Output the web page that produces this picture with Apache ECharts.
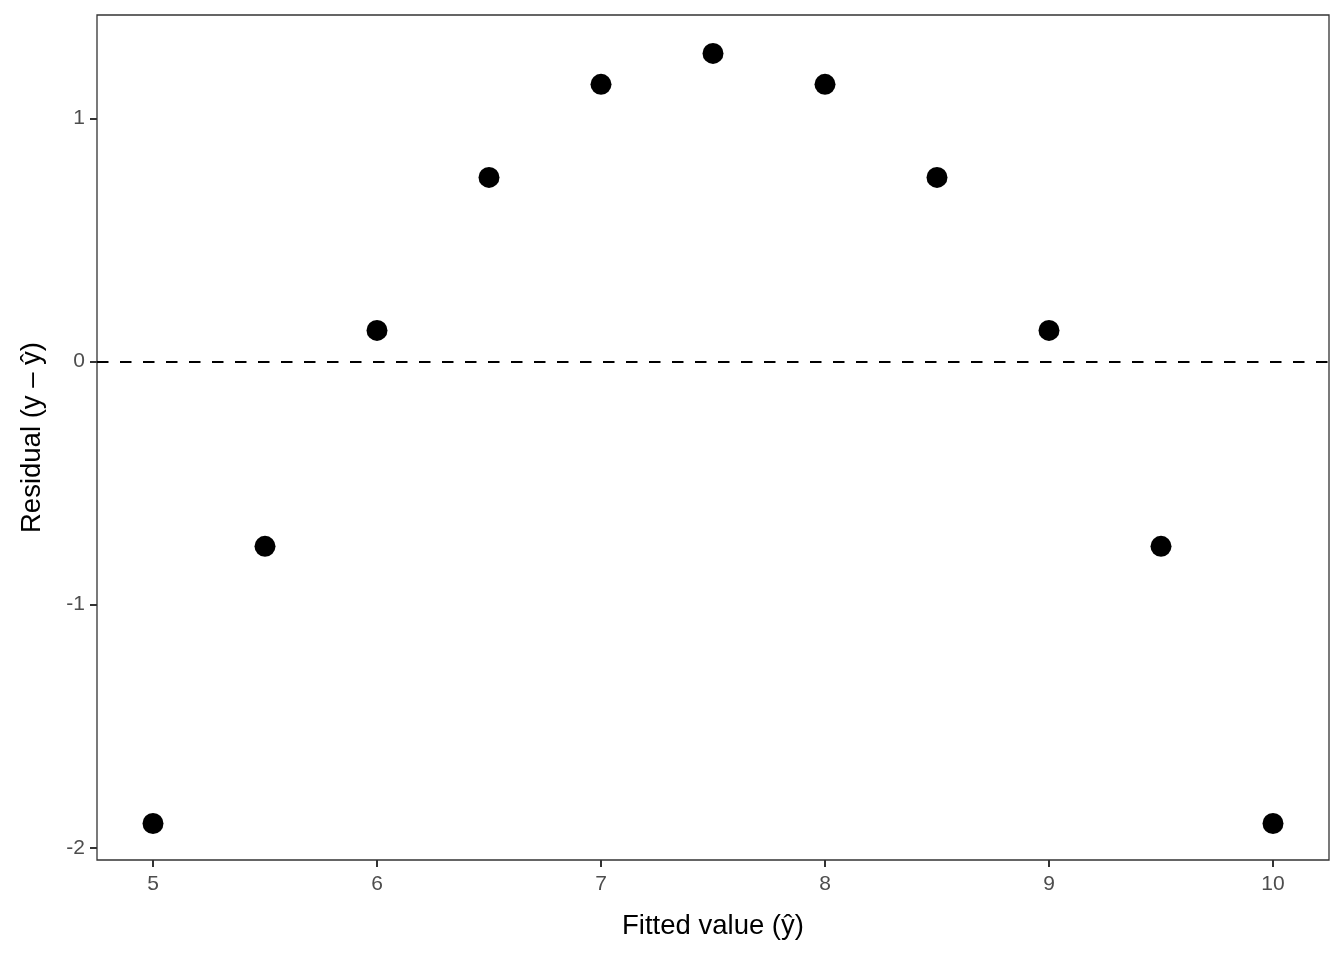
<!DOCTYPE html>
<html><head><meta charset="utf-8">
<script src="https://cdn.jsdelivr.net/npm/echarts@6/dist/echarts.min.js"></script>
<style>html,body{margin:0;padding:0;background:#fff}#c{width:1344px;height:960px}</style>
</head><body><div id="c"></div>
<script>
const fitted = [5, 5.5, 6, 6.5, 7, 7.5, 8, 8.5, 9, 9.5, 10];
const residuals = [-1.9, -0.76, 0.128, 0.757, 1.14, 1.267, 1.14, 0.757, 0.128, -0.76, -1.9];
const xTicks = [5, 6, 7, 8, 9, 10];
const yTicks = [-2, -1, 0, 1];

const chart = echarts.init(document.getElementById('c'));
const font = '"Liberation Sans", Arial, Helvetica, sans-serif';
chart.setOption({
  animation: false,
  grid: {left: 97, right: 15, top: 15, bottom: 100, show: true, borderColor: '#333333', borderWidth: 1.3, backgroundColor: '#fff'},
  xAxis: {
    type: 'value', min: 4.75, max: 10.25,
    name: 'Fitted value (y\u0302)', nameLocation: 'middle', nameGap: 52,
    nameTextStyle: {fontFamily: font, fontSize: 27.5, color: '#000'},
    axisLine: {show: false, onZero: false},
    axisTick: {show: true, length: 7, lineStyle: {color: '#333333', width: 2},
      customValues: xTicks},
    axisLabel: {fontFamily: font, fontSize: 21, color: '#4d4d4d', margin: 14,
      customValues: xTicks, showMinLabel: true, showMaxLabel: true},
    splitLine: {show: false}
  },
  yAxis: {
    type: 'value', min: -2.05, max: 1.425,
    name: 'Residual (y \u2013 y\u0302)', nameLocation: 'middle', nameGap: 51,
    nameTextStyle: {fontFamily: font, fontSize: 27.5, color: '#000'},
    axisLine: {show: false, onZero: false},
    axisTick: {show: true, length: 7, lineStyle: {color: '#333333', width: 2},
      customValues: yTicks},
    axisLabel: {fontFamily: font, fontSize: 21, color: '#4d4d4d', margin: 12,
      customValues: yTicks},
    splitLine: {show: false}
  },
  series: [{
    type: 'scatter',
    data: fitted.map((x, i) => [x, residuals[i]]),
    symbolSize: 21,
    itemStyle: {color: '#000', opacity: 1},
    markLine: {
      silent: true, symbol: 'none', label: {show: false},
      lineStyle: {color: '#000', type: [11.5, 11.5], width: 2},
      data: [{yAxis: 0}]
    }
  }]
});
</script></body></html>
